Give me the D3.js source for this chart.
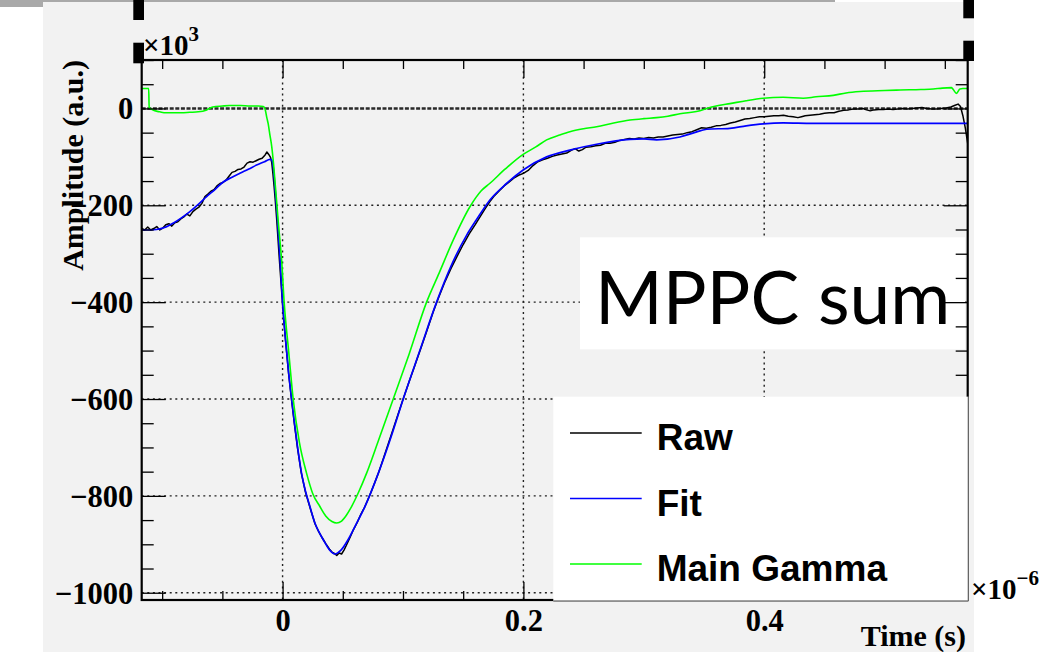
<!DOCTYPE html>
<html>
<head>
<meta charset="utf-8">
<script src="https://cdn.jsdelivr.net/npm/d3@7"></script>
<style>
  html, body { margin: 0; padding: 0; background: #ffffff; }
  svg { display: block; }
</style>
</head>
<body>
<svg id="chart" width="1050" height="652"></svg>
<script>
// ---- Waveform data: time in 1e-6 s, amplitude in 1e3 a.u. ----
const rawTime = [
  -0.117, -0.1145, -0.112, -0.1095, -0.107, -0.1045, -0.102, -0.0995, -0.097, -0.0945,
  -0.092, -0.0895, -0.087, -0.0845, -0.082, -0.0795, -0.077, -0.0745, -0.072, -0.0695,
  -0.067, -0.0645, -0.062, -0.0595, -0.057, -0.0545, -0.052, -0.0495, -0.047, -0.0445,
  -0.042, -0.0395, -0.037, -0.0345, -0.032, -0.0295, -0.027, -0.0245, -0.022, -0.0195,
  -0.017, -0.0145, -0.013, -0.0115, -0.010, -0.009, -0.008, -0.007, -0.006, -0.005,
  -0.004, -0.003, -0.002, -0.001, 0.000, 0.0025, 0.005, 0.0075, 0.010, 0.0125,
  0.0155, 0.019, 0.023, 0.027, 0.030, 0.033, 0.036, 0.039, 0.041, 0.043,
  0.045, 0.047, 0.049, 0.051, 0.053, 0.056, 0.059, 0.062, 0.065, 0.068,
  0.071, 0.074, 0.077, 0.080, 0.084, 0.088, 0.092, 0.096, 0.100, 0.105,
  0.110, 0.115, 0.120, 0.125, 0.130, 0.135, 0.140, 0.145, 0.150, 0.155,
  0.160, 0.165, 0.168, 0.172, 0.176, 0.180, 0.184, 0.188, 0.192, 0.196,
  0.200, 0.204, 0.208, 0.212, 0.216, 0.220, 0.224, 0.228, 0.232, 0.236,
  0.240, 0.243, 0.246, 0.249, 0.252, 0.256, 0.260, 0.264, 0.268, 0.272,
  0.276, 0.280, 0.284, 0.288, 0.292, 0.296, 0.300, 0.304, 0.308, 0.312,
  0.316, 0.320, 0.324, 0.328, 0.332, 0.336, 0.340, 0.344, 0.348, 0.352,
  0.356, 0.360, 0.364, 0.368, 0.372, 0.376, 0.380, 0.384, 0.388, 0.392,
  0.396, 0.400, 0.404, 0.408, 0.412, 0.416, 0.420, 0.424, 0.428, 0.431,
  0.434, 0.438, 0.442, 0.446, 0.450, 0.454, 0.458, 0.462, 0.466, 0.470,
  0.474, 0.478, 0.482, 0.485, 0.488, 0.491, 0.495, 0.499, 0.503, 0.507,
  0.511, 0.515, 0.519, 0.523, 0.527, 0.531, 0.535, 0.539, 0.543, 0.547,
  0.551, 0.555, 0.558, 0.561, 0.563, 0.565, 0.567, 0.569
];
const rawAmp = [
  -248, -251, -245, -251, -248, -244, -251, -247, -240, -238,
  -243, -236, -234, -228, -224, -218, -222, -213, -208, -204,
  -196, -182, -177, -171, -168, -160, -155, -153, -148, -140,
  -132, -130, -126, -125, -121, -113, -110, -111, -108, -105,
  -103, -96, -90, -95, -101, -112, -135, -162, -192, -225,
  -262, -300, -335, -370, -405, -480, -547, -603, -655, -703,
  -752, -792, -826, -858, -874, -887, -899, -910, -916, -919,
  -923, -918, -920, -912, -902, -886, -869, -855, -838, -824,
  -807, -789, -770, -750, -721, -691, -661, -631, -601, -565,
  -530, -494, -458, -421, -388, -357, -330, -305, -281, -259,
  -240, -220, -208, -193, -180, -170, -160, -152, -144, -138,
  -134, -128, -118, -110, -106, -103, -99, -96, -94, -92,
  -86, -83, -88, -85, -80, -79, -77, -76, -72, -72,
  -70, -66, -64, -62, -63, -61, -62, -60, -61, -59,
  -59, -57, -55, -54, -53, -50, -48, -44, -40, -41,
  -39, -36, -35, -33, -30, -28, -25, -22, -21, -19,
  -17, -17, -16, -15, -15, -14, -16, -17, -19, -17,
  -15, -14, -13, -12, -10, -9, -9, -6, -4, -3,
  -1, -1, 0, -3, -5, -3, -2, -2, -1, -2,
  -1, 0, -1, 0, 1, 2, 0, -1, -1, 0,
  1, 3, 6, 9, 4, -15, -40, -72
];

const fitTime = [
  -0.117, -0.110, -0.1047, -0.098, -0.0909, -0.084, -0.077, -0.070, -0.0631, -0.056,
  -0.0493, -0.042, -0.0355, -0.028, -0.0216, -0.015, -0.0105, -0.0092, -0.0083, -0.0072,
  -0.0064, -0.0045, -0.002, 0.000, 0.0025, 0.005, 0.0075, 0.010, 0.0125, 0.0158,
  0.019, 0.0227, 0.027, 0.0305, 0.0337, 0.0385, 0.0434, 0.0485, 0.0545, 0.061,
  0.0684, 0.0794, 0.090, 0.1002, 0.114, 0.1279, 0.140, 0.1528, 0.161, 0.1722,
  0.186, 0.1998, 0.2193, 0.2386, 0.2608, 0.2885, 0.300, 0.3106, 0.330, 0.342,
  0.3522, 0.3715, 0.385, 0.3992, 0.4158, 0.440, 0.569
];
const fitAmp = [
  -251, -251, -250, -246, -237, -226, -213, -198, -182, -167,
  -152, -142, -134, -125, -117, -110, -105, -106, -112, -135,
  -160, -220, -315, -400, -478, -545, -600, -652, -700, -754,
  -790, -822, -857, -876, -890, -910, -920, -912, -890, -859,
  -822, -754, -679, -600, -500, -400, -325, -262, -230, -189,
  -155, -127, -100, -86, -74, -64, -63, -65, -59, -50,
  -43, -41, -36, -32, -30, -31, -31
];

const gammaTime = [
  -0.117, -0.1112, -0.1108, -0.106, -0.102, -0.097, -0.091, -0.084, -0.077, -0.070,
  -0.063, -0.058, -0.050, -0.044, -0.035, -0.027, -0.020, -0.016, -0.0147, -0.013,
  -0.012, -0.0105, -0.009, -0.0075, -0.0064, -0.005, -0.0037, -0.002, -0.0008, 0.0013,
  0.005, 0.0088, 0.014, 0.0199, 0.025, 0.031, 0.036, 0.041, 0.0449, 0.049,
  0.053, 0.0573, 0.063, 0.0698, 0.080, 0.0919, 0.105, 0.1196, 0.130, 0.1417,
  0.1556, 0.165, 0.172, 0.185, 0.1998, 0.210, 0.2193, 0.230, 0.2386, 0.250,
  0.2608, 0.275, 0.2885, 0.300, 0.3106, 0.320, 0.330, 0.3466, 0.3522, 0.362,
  0.3715, 0.385, 0.3992, 0.4158, 0.4324, 0.443, 0.4573, 0.468, 0.4796, 0.500,
  0.5128, 0.530, 0.5404, 0.548, 0.5556, 0.557, 0.5597, 0.5625, 0.565, 0.569
];
const gammaAmp = [
  41, 41, 2, -5, -7, -9, -9, -9, -8, -7,
  -3, 3, 5, 6, 6, 5, 5, 4, 0, -20,
  -31, -55, -79, -115, -148, -190, -231, -278, -313, -400,
  -500, -600, -690, -753, -795, -822, -842, -853, -856, -852,
  -840, -822, -793, -753, -683, -600, -508, -400, -340, -272,
  -203, -170, -155, -125, -95, -80, -65, -55, -48, -42,
  -38, -30, -24, -21, -19, -16, -11, -5, 0, 6,
  10, 16, 21, 23, 21, 24, 27, 32, 35, 37,
  38, 39, 40, 42, 43, 39, 31, 40, 41, 41
];

// Axis ticks and labels
const xMajorTicks = [0, 0.2, 0.4];
const xTickLabels = ["0", "0.2", "0.4"];
const xMinorTicks = [-0.1, -0.05, 0.05, 0.1, 0.15, 0.25, 0.3, 0.35, 0.45, 0.5, 0.55];
const yMajorTicks = [0, -200, -400, -600, -800, -1000];
const yTickLabels = ["0", "\u2212200", "\u2212400", "\u2212600", "\u2212800", "\u22121000"];
const yMinorTicks = [100, 50, -50, -100, -150, -250, -300, -350, -450, -500, -550,
                     -650, -700, -750, -850, -900, -950];

const legendLabels = ["Raw", "Fit", "Main Gamma"];
const seriesColors = ["#000000", "#0000ff", "#00ff00"];

// ---- Layout ----
const frame = { left: 141.7, right: 967.7, top: 60, bottom: 600 };
const serif = "'Liberation Serif', 'Times New Roman', serif";
const sans = "'Liberation Sans', Arial, Helvetica, sans-serif";

const svg = d3.select("#chart");

const x = d3.scaleLinear().domain([-0.117, 0.569]).range([frame.left, frame.right]);
const y = d3.scaleLinear().domain([-1015, 100]).range([frame.bottom, frame.top]);

// Canvas
svg.append("rect").attr("x", 0).attr("y", 0).attr("width", 835).attr("height", 2).attr("fill", "#a9a9a9");
svg.append("rect").attr("x", 0).attr("y", 0).attr("width", 43).attr("height", 7).attr("fill", "#a9a9a9");
svg.append("rect").attr("x", 43).attr("y", 2).attr("width", 931).attr("height", 650).attr("fill", "#f2f2f2");

// Corner marks
[[133.3, 0, 20], [133.3, 42.7, 20.6], [963.3, 0, 18.3], [963.3, 40.7, 20.3]].forEach(([mx, my, mh]) => {
  svg.append("rect").attr("x", mx).attr("y", my).attr("width", 10.7).attr("height", mh).attr("fill", "#000");
});

// Grid
const grid = svg.append("g").attr("stroke", "#222").attr("stroke-width", 1.4).attr("stroke-dasharray", "2,3.6");
grid.selectAll("line.gx").data(xMajorTicks).join("line")
  .attr("x1", d => x(d)).attr("x2", d => x(d)).attr("y1", frame.top).attr("y2", frame.bottom);
grid.selectAll("line.gy").data(yMajorTicks.filter(d => d !== 0)).join("line")
  .attr("x1", frame.left).attr("x2", frame.right).attr("y1", d => y(d)).attr("y2", d => y(d));

// Baseline at zero amplitude
svg.append("line")
  .attr("x1", frame.left).attr("x2", frame.right).attr("y1", y(0)).attr("y2", y(0))
  .attr("stroke", "#2a2a2a").attr("stroke-width", 2.4).attr("stroke-dasharray", "4,1.6");

// Curves
svg.append("clipPath").attr("id", "plotClip").append("rect")
  .attr("x", frame.left).attr("y", frame.top)
  .attr("width", frame.right - frame.left).attr("height", frame.bottom - frame.top);

const curves = svg.append("g").attr("clip-path", "url(#plotClip)").attr("fill", "none");
const rawLine = d3.line().x(d => x(d[0])).y(d => y(d[1])).curve(d3.curveLinear);
const smoothLine = d3.line().x(d => x(d[0])).y(d => y(d[1])).curve(d3.curveMonotoneX);

curves.append("path").datum(d3.zip(rawTime, rawAmp)).attr("d", rawLine)
  .attr("stroke", seriesColors[0]).attr("stroke-width", 1.5).attr("stroke-linejoin", "round");
curves.append("path").datum(d3.zip(fitTime, fitAmp)).attr("d", smoothLine)
  .attr("stroke", seriesColors[1]).attr("stroke-width", 1.7);
curves.append("path").datum(d3.zip(gammaTime, gammaAmp)).attr("d", smoothLine)
  .attr("stroke", seriesColors[2]).attr("stroke-width", 1.6);

// Title box
svg.append("rect").attr("x", 580).attr("y", 237.3).attr("width", 385).attr("height", 112).attr("fill", "#fff");
svg.append("text").attr("x", 595).attr("y", 324)
  .attr("font-family", "Lato, 'Open Sans', sans-serif").attr("font-size", 73)
  .attr("fill", "#000").text("MPPC sum");

// Frame
svg.append("rect").attr("x", frame.left).attr("y", frame.top)
  .attr("width", frame.right - frame.left).attr("height", frame.bottom - frame.top)
  .attr("fill", "none").attr("stroke", "#000").attr("stroke-width", 2.2);

// Ticks (inward on all four sides)
function tickAxis(axisFn, scale, values, size, tx, ty) {
  const g = svg.append("g").attr("transform", `translate(${tx},${ty})`)
    .call(axisFn(scale).tickValues(values).tickSize(size).tickFormat(""));
  g.select(".domain").remove();
  g.selectAll("line").attr("stroke", "#000").attr("stroke-width", 1.3);
  return g;
}
tickAxis(d3.axisRight, y, yMajorTicks, 24, frame.left, 0);
tickAxis(d3.axisRight, y, yMinorTicks, 12, frame.left, 0);
tickAxis(d3.axisLeft, y, yMajorTicks, 24, frame.right, 0);
tickAxis(d3.axisLeft, y, yMinorTicks, 12, frame.right, 0);
tickAxis(d3.axisTop, x, xMajorTicks, 18, 0, frame.bottom);
tickAxis(d3.axisTop, x, xMinorTicks, 9, 0, frame.bottom);
tickAxis(d3.axisBottom, x, xMajorTicks, 18, 0, frame.top);
tickAxis(d3.axisBottom, x, xMinorTicks, 9, 0, frame.top);

// Tick labels
const yLab = svg.append("g").attr("transform", `translate(${frame.left},0)`)
  .call(d3.axisLeft(y).tickValues(yMajorTicks).tickSize(0).tickPadding(8.5)
    .tickFormat((d, i) => yTickLabels[i]));
yLab.select(".domain").remove();
yLab.selectAll("text").attr("font-family", serif).attr("font-weight", "bold")
  .attr("font-size", 30.5).attr("fill", "#000").attr("dy", "0.34em");

const xLab = svg.append("g").attr("transform", `translate(0,${frame.bottom})`)
  .call(d3.axisBottom(x).tickValues(xMajorTicks).tickSize(0)
    .tickFormat((d, i) => xTickLabels[i]));
xLab.select(".domain").remove();
xLab.selectAll("text").attr("font-family", serif).attr("font-weight", "bold")
  .attr("font-size", 30.5).attr("fill", "#000").attr("y", 30.5).attr("dy", 0);

// Legend
const legend = svg.append("g");
legend.append("rect").attr("x", 553.3).attr("y", 396.7).attr("width", 415).attr("height", 204.3).attr("fill", "#fff");
legend.append("line").attr("x1", 553.3).attr("x2", 968.3).attr("y1", 601).attr("y2", 601).attr("stroke", "#444").attr("stroke-width", 1.2);
legend.append("line").attr("x1", 968.3).attr("x2", 968.3).attr("y1", 396.7).attr("y2", 601).attr("stroke", "#666").attr("stroke-width", 1.2);
const legendBaselines = [450, 515.5, 581];
legendLabels.forEach((label, i) => {
  const yb = legendBaselines[i];
  legend.append("line").attr("x1", 570).attr("x2", 641.7).attr("y1", yb - 17).attr("y2", yb - 17)
    .attr("stroke", seriesColors[i]).attr("stroke-width", 1.5);
  legend.append("text").attr("x", 656.7).attr("y", yb)
    .attr("font-family", sans).attr("font-weight", "bold").attr("font-size", 37)
    .attr("fill", "#000").text(label);
});

// Axis titles and exponent labels
svg.append("text").attr("transform", "translate(83,60) rotate(-90)")
  .attr("text-anchor", "end").attr("font-family", serif).attr("font-weight", "bold")
  .attr("font-size", 30).attr("fill", "#000").text("Amplitude (a.u.)");
svg.append("text").attr("x", 966).attr("y", 646).attr("text-anchor", "end")
  .attr("font-family", serif).attr("font-weight", "bold")
  .attr("font-size", 30).attr("fill", "#000").text("Time (s)");

function exponentLabel(x0, yb, base, exp) {
  const t = svg.append("text").attr("x", x0).attr("y", yb)
    .attr("font-family", serif).attr("font-weight", "bold").attr("fill", "#000");
  t.append("tspan").attr("font-size", 29).text(base);
  t.append("tspan").attr("font-size", 21).attr("dy", -14).text(exp);
}
exponentLabel(143, 55, "\u00d710", "3");
exponentLabel(971, 599, "\u00d710", "\u22126");
</script>
</body>
</html>
